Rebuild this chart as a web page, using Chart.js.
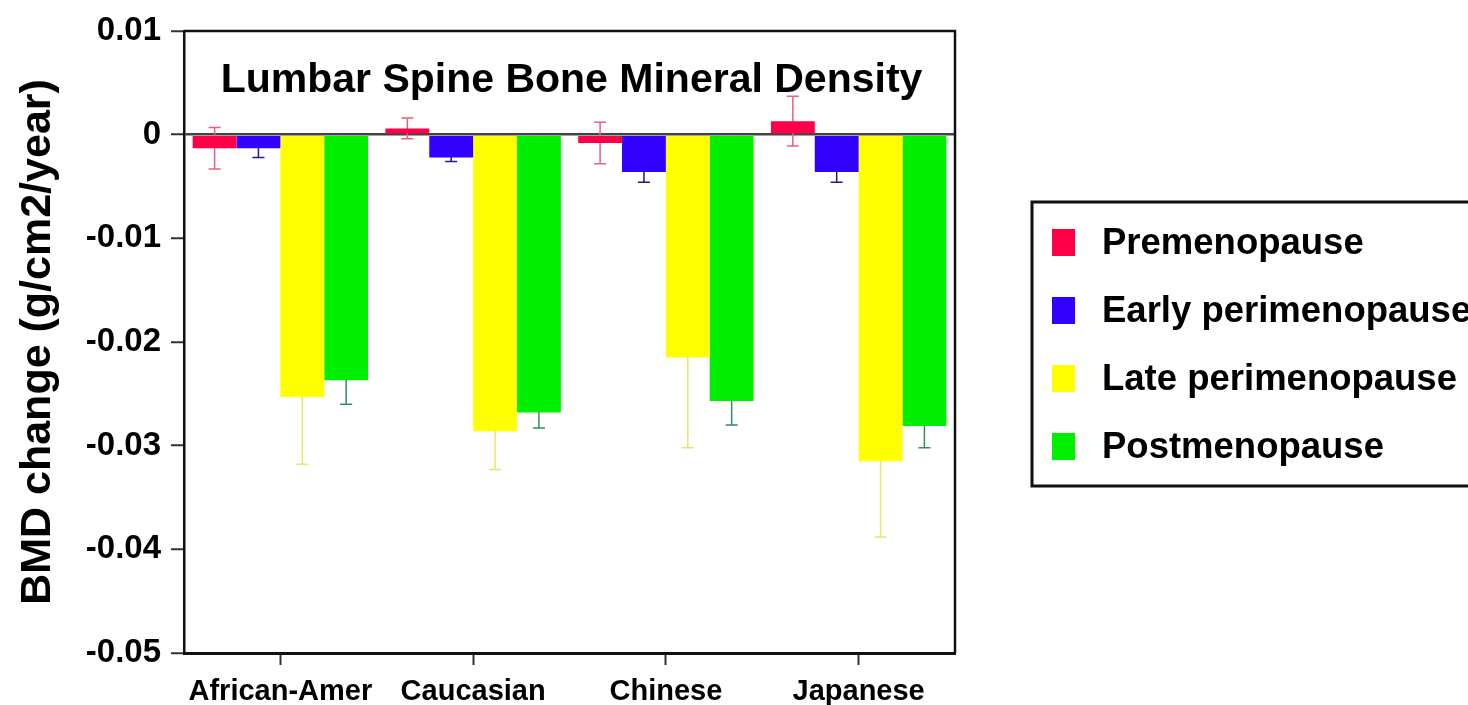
<!DOCTYPE html>
<html>
<head>
<meta charset="utf-8">
<script src="https://cdn.jsdelivr.net/npm/chart.js@4/dist/chart.umd.min.js"></script>
<style>
  html, body { margin: 0; padding: 0; background: #fff; overflow: hidden; }
  #chart { display: block; }
</style>
</head>
<body>
<canvas id="chart" width="1468" height="705"></canvas>
<script>
// Data
var categories = ['African-Amer', 'Caucasian', 'Chinese', 'Japanese'];
var seriesNames = ['Premenopause', 'Early perimenopause', 'Late perimenopause', 'Postmenopause'];

var premeno      = [-0.0013,  0.0006, -0.0008,  0.0013];
var premenoErr   = [ 0.0020,  0.0010,  0.0020,  0.0024];
var earlyPeri    = [-0.0013, -0.0022, -0.0036, -0.0036];
var earlyPeriErr = [ 0.0009,  0.0004,  0.0010,  0.0010];
var latePeri     = [-0.0253, -0.0286, -0.0215, -0.0315];
var latePeriErr  = [ 0.0065,  0.0037,  0.0087,  0.0073];
var postmeno     = [-0.0237, -0.0268, -0.0257, -0.0281];
var postmenoErr  = [ 0.0023,  0.0015,  0.0023,  0.0021];

var yMin = -0.05, yMax = 0.01, yStep = 0.01;

var barColors = ['#ff0048', '#3300ff', '#ffff00', '#00ee00'];
var errColors = ['#e8607f', '#2a1580', '#e6e66a', '#2f8f5f'];
var FONT = '"Liberation Sans", Arial, sans-serif';

function isZero(v) { return Math.abs(v) < 1e-9; }

// error bars, drawn under the bars so only the visible part shows
var errorBars = {
  id: 'errorBars',
  beforeDatasetsDraw: function (chart) {
    var ctx = chart.ctx, y = chart.scales.y;
    chart.data.datasets.forEach(function (ds, di) {
      var meta = chart.getDatasetMeta(di);
      ctx.save();
      ctx.strokeStyle = ds.errColor;
      ctx.lineWidth = 1.5;
      meta.data.forEach(function (bar, i) {
        var v = ds.data[i], e = ds.errors[i];
        var top = y.getPixelForValue(v + e), bot = y.getPixelForValue(v - e);
        ctx.beginPath();
        ctx.moveTo(bar.x, top); ctx.lineTo(bar.x, bot);
        ctx.moveTo(bar.x - 6, top); ctx.lineTo(bar.x + 6, top);
        ctx.moveTo(bar.x - 6, bot); ctx.lineTo(bar.x + 6, bot);
        ctx.stroke();
      });
      ctx.restore();
    });
  }
};

// plot frame, title inside the plot, boxed legend on the right
var decorations = {
  id: 'decorations',
  afterDraw: function (chart) {
    var ctx = chart.ctx, a = chart.chartArea;
    ctx.save();
    ctx.strokeStyle = '#111';
    ctx.lineWidth = 2.5;
    ctx.beginPath();
    ctx.moveTo(a.left, a.top); ctx.lineTo(a.right, a.top); ctx.lineTo(a.right, a.bottom);
    ctx.stroke();

    ctx.fillStyle = '#000';
    ctx.font = 'bold 41px ' + FONT;
    ctx.textAlign = 'center';
    ctx.textBaseline = 'alphabetic';
    ctx.fillText('Lumbar Spine Bone Mineral Density', (a.left + a.right) / 2 + 2, a.top + 61);

    // legend
    var lx = 1032, ly = 202;
    ctx.lineWidth = 3;
    ctx.strokeRect(lx, ly, 500, 284);
    ctx.font = 'bold 36.5px ' + FONT;
    ctx.textAlign = 'left';
    chart.data.datasets.forEach(function (ds, i) {
      var cy = ly + 40 + i * 68;
      ctx.fillStyle = ds.backgroundColor;
      ctx.fillRect(lx + 20, cy - 13, 23, 27);
      ctx.fillStyle = '#000';
      ctx.fillText(ds.label, lx + 70, cy + 12);
    });
    ctx.restore();
  }
};

var datasets = [premeno, earlyPeri, latePeri, postmeno].map(function (vals, i) {
  return {
    label: seriesNames[i],
    data: vals,
    errors: [premenoErr, earlyPeriErr, latePeriErr, postmenoErr][i],
    backgroundColor: barColors[i],
    errColor: errColors[i],
    borderWidth: 0,
    categoryPercentage: 0.91,
    barPercentage: 1.0
  };
});

new Chart(document.getElementById('chart'), {
  type: 'bar',
  data: { labels: categories, datasets: datasets },
  options: {
    responsive: false,
    animation: false,
    devicePixelRatio: 1,
    layout: { padding: { left: 0, right: 513, top: 31, bottom: 0 } },
    plugins: {
      legend: { display: false },
      title: { display: false },
      tooltip: { enabled: false }
    },
    scales: {
      x: {
        afterFit: function (s) { s.height = 52; },
        grid: { display: true, drawOnChartArea: false, offset: false, tickLength: 12, tickColor: '#333', tickWidth: 2 },
        border: { display: true, color: '#111', width: 3 },
        ticks: { color: '#000', font: { family: FONT, size: 29, weight: 'bold' }, padding: 10, maxRotation: 0 }
      },
      y: {
        min: yMin,
        max: yMax,
        afterFit: function (s) { s.width = 184; },
        grid: {
          color: function (c) { return c.tick && isZero(c.tick.value) ? '#444' : 'transparent'; },
          lineWidth: 2.5,
          tickColor: '#333',
          tickLength: 13,
          tickWidth: 2
        },
        border: { display: true, color: '#111', width: 2.5 },
        ticks: {
          stepSize: yStep,
          padding: 10,
          color: '#000',
          font: { family: FONT, size: 33, weight: 'bold' },
          callback: function (v) { return isZero(v) ? '0' : v.toFixed(2); }
        },
        title: {
          display: true,
          text: 'BMD change (g/cm2/year)',
          color: '#000',
          font: { family: FONT, size: 43, weight: 'bold' },
          padding: { top: 12, bottom: 0 }
        }
      }
    }
  },
  plugins: [errorBars, decorations]
});
</script>
</body>
</html>
